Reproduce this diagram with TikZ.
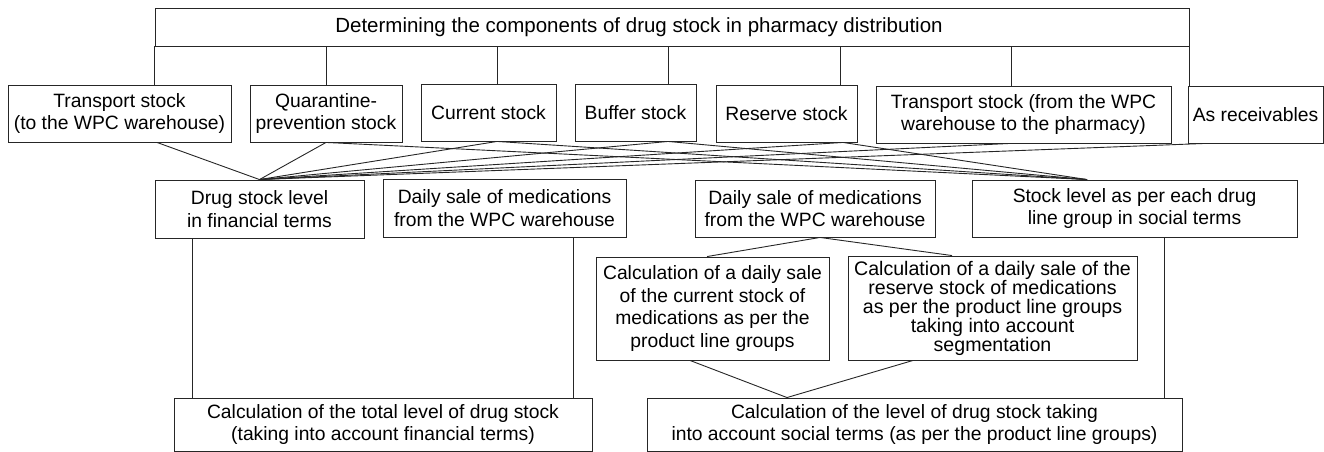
\documentclass[tikz,border=0pt]{standalone}
\usepackage{fontspec}
\setmainfont{Liberation Sans}
\usetikzlibrary{calc}
\begin{document}
\begin{tikzpicture}[x=1pt,y=-1pt,
  box/.style={draw=black!85, line width=0.9pt, align=center, inner sep=0pt,
    font=\fontsize{19.3}{22.5}\selectfont},
  sz/.style 2 args={minimum width=#1pt, minimum height=#2pt},
  link/.style={draw=black!85, line width=0.9pt}]
\useasboundingbox (0,0) rectangle (1324,452);

% heading
\node[box, sz={1034}{38}, font=\fontsize{20.5}{24}\selectfont] (top) at (672,27)
  {\hspace*{-66pt}Determining the components of drug stock in pharmacy distribution};

% components of the stock
\node[box, sz={223}{57}] (tr1)  at (119.5,113.5) {Transport stock\\(to the WPC warehouse)};
\node[box, sz={152}{57}] (quar) at (326,113.5)   {Quarantine-\\prevention stock};
\node[box, sz={135}{57}] (cur)  at (488.5,112.5) {Current stock};
\node[box, sz={121}{57}] (buf)  at (635.5,112.5) {Buffer stock};
\node[box, sz={141}{57}] (res)  at (786.5,113.5) {Reserve stock};
\node[box, sz={295}{57}] (tr2)  at (1023.5,114.5) {Transport stock (from the WPC\\warehouse to the pharmacy)};
\node[box, sz={135}{57}] (rec)  at (1255.5,114.5) {As receivables};

% levels and daily sales
\node[box, sz={209}{58}] (fin) at (259.5,209) {Drug stock level\\in financial terms};
\node[box, sz={243}{58}] (ds1) at (504.5,208) {Daily sale of medications\\from the WPC warehouse};
\node[box, sz={240}{57}] (ds2) at (815,208.5) {Daily sale of medications\\from the WPC warehouse};
\node[box, sz={325}{57}] (soc) at (1134.5,208.5) {Stock level as per each drug\\line group in social terms};

% daily sale calculations
\node[box, sz={233}{103}] (cdc) at (712.5,308.5)
  {Calculation of a daily sale\\of the current stock of\\medications as per the\\product line groups};
\node[box, sz={289}{104}, font=\fontsize{19.6}{19}\selectfont] (cdr) at (992.5,308)
  {Calculation of a daily sale of the\\reserve stock of medications\\as per the product line groups\\taking into account\\segmentation};

% totals
\node[box, sz={418}{53}] (tot) at (383,424.5)
  {Calculation of the total level of drug stock\\(taking into account financial terms)};
\node[box, sz={535}{53}] (scl) at (914.5,424.5)
  {Calculation of the level of drug stock taking\\into account social terms (as per the product line groups)};

% attachment points of the connectors
\coordinate (tr1-x)  at (top.south west);
\coordinate (quar-x) at (quar.north);
\coordinate (cur-x)  at ($(cur.north)+(8.5,0)$);
\coordinate (buf-x)  at ($(buf.north)+(32.5,0)$);
\coordinate (res-x)  at ($(res.north)+(53.5,0)$);
\coordinate (tr2-x)  at ($(tr2.north)+(-12.5,0)$);
\coordinate (rec-x)  at (top.south east);

\coordinate (tr1-b)  at ($(tr1.south)+(37.5,0)$);
\coordinate (quar-b) at (quar.south);
\coordinate (cur-b)  at ($(cur.south)+(8.5,0)$);
\coordinate (buf-b)  at ($(buf.south)+(32.5,0)$);
\coordinate (res-b)  at ($(res.south)+(56.5,0)$);
\coordinate (tr2-b)  at ($(tr2.south)+(-13.5,0)$);
\coordinate (rec-b)  at ($(rec.south)+(-50.5,0)$);

\coordinate (soc-in) at ($(soc.north)+(-47.5,0)$);
\coordinate (fin-v)  at ($(fin.south west)+(38,0)$);
\coordinate (ds1-v)  at ($(ds1.south east)+(-53,0)$);
\coordinate (soc-v)  at ($(soc.south east)+(-133,0)$);
\coordinate (ds2-b)  at ($(ds2.south)+(5,0)$);
\coordinate (cdc-t)  at ($(cdc.north)+(-5.5,0)$);
\coordinate (cdr-t)  at ($(cdr.north)+(-40.5,0)$);
\coordinate (cdc-b)  at ($(cdc.south)+(-22.5,0)$);
\coordinate (cdr-b)  at ($(cdr.south)+(-79.5,0)$);
\coordinate (scl-in) at ($(scl.north)+(-127.5,0)$);

% heading to each component
\foreach \n in {tr1,quar,cur,buf,res,tr2,rec}
  \draw[link] (\n-x |- top.south) -- (\n-x |- \n.north);

% components gathered into the financial level
\foreach \n in {tr1,quar,cur,buf,res,tr2,rec}
  \draw[link] (\n-b) -- (fin.north);

% components gathered into the social level
\foreach \n in {quar,cur,buf,res}
  \draw[link] (\n-b) -- (soc-in);

% lower part
\draw[link] (fin-v) -- (fin-v |- tot.north);
\draw[link] (ds1-v) -- (ds1-v |- tot.north);
\draw[link] (soc-v) -- (soc-v |- scl.north);
\draw[link] (ds2-b) -- (cdc-t);
\draw[link] (ds2-b) -- (cdr-t);
\draw[link] (cdc-b) -- (scl-in);
\draw[link] (cdr-b) -- (scl-in);
\end{tikzpicture}
\end{document}
